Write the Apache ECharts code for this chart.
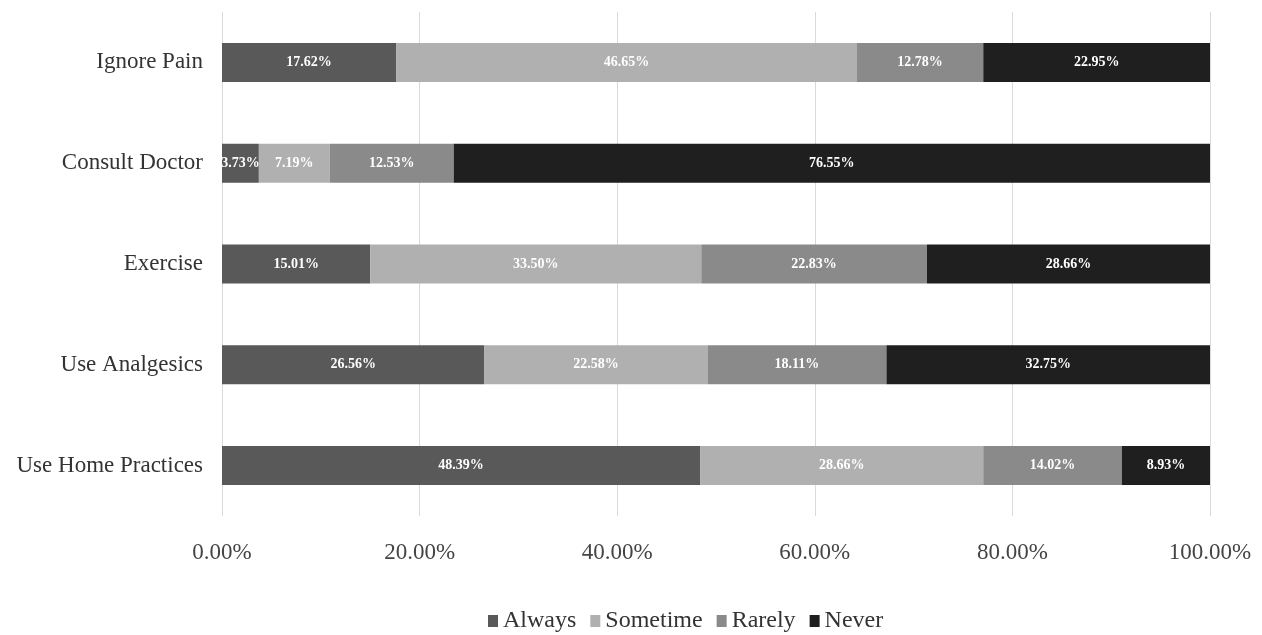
<!DOCTYPE html>
<html><head><meta charset="utf-8">
<script src="https://cdn.jsdelivr.net/npm/echarts@6/dist/echarts.min.js"></script>
<style>html,body{margin:0;padding:0;background:#fff}#c{width:1262px;height:635px}</style>
</head><body><div id="c"></div>
<script>
var categories = ['Ignore Pain','Consult Doctor','Exercise','Use Analgesics','Use Home Practices'];
var always   = [17.62, 3.73, 15.01, 26.56, 48.39];
var sometime = [46.65, 7.19, 33.50, 22.58, 28.66];
var rarely   = [12.78, 12.53, 22.83, 18.11, 14.02];
var never    = [22.95, 76.55, 28.66, 32.75, 8.93];
var seriesNames = ['Always','Sometime','Rarely','Never'];
var colors = ['#595959','#b0b0b0','#8a8a8a','#1f1f1f'];
var font = '"Liberation Serif", "DejaVu Serif", serif';
var chart = echarts.init(document.getElementById('c'));
function mk(name, data, color){
  return {
    name: name, type: 'bar', stack: 'total', data: data, barWidth: 39,
    itemStyle: {color: color},
    label: {show: true, position: 'inside', color: '#fff', fontFamily: font, fontWeight: 'bold', fontSize: 14,
      formatter: function(p){ return p.value.toFixed(2) + '%'; }}
  };
}
chart.setOption({
  animation: false,
  textStyle: {fontFamily: font},
  grid: {left: 222, right: 52, top: 12, bottom: 119, containLabel: false},
  legend: {
    data: seriesNames, left: 483, top: 604, itemWidth: 10, itemHeight: 12, itemGap: 14,
    icon: 'rect', textStyle: {fontFamily: font, fontSize: 24, color: '#333'}
  },
  xAxis: {
    type: 'value', min: 0, max: 100, interval: 20,
    axisLine: {show: false}, axisTick: {show: false},
    splitLine: {lineStyle: {color: '#d9d9d9'}},
    axisLabel: {fontFamily: font, fontSize: 23, color: '#444', margin: 25,
      formatter: function(v){ return v.toFixed(2) + '%'; }}
  },
  yAxis: {
    type: 'category', data: categories, inverse: true,
    axisLine: {show: false}, axisTick: {show: false},
    axisLabel: {fontFamily: font, fontSize: 23, color: '#333', margin: 19}
  },
  series: [mk(seriesNames[0], always, colors[0]), mk(seriesNames[1], sometime, colors[1]),
           mk(seriesNames[2], rarely, colors[2]), mk(seriesNames[3], never, colors[3])]
});
</script></body></html>
